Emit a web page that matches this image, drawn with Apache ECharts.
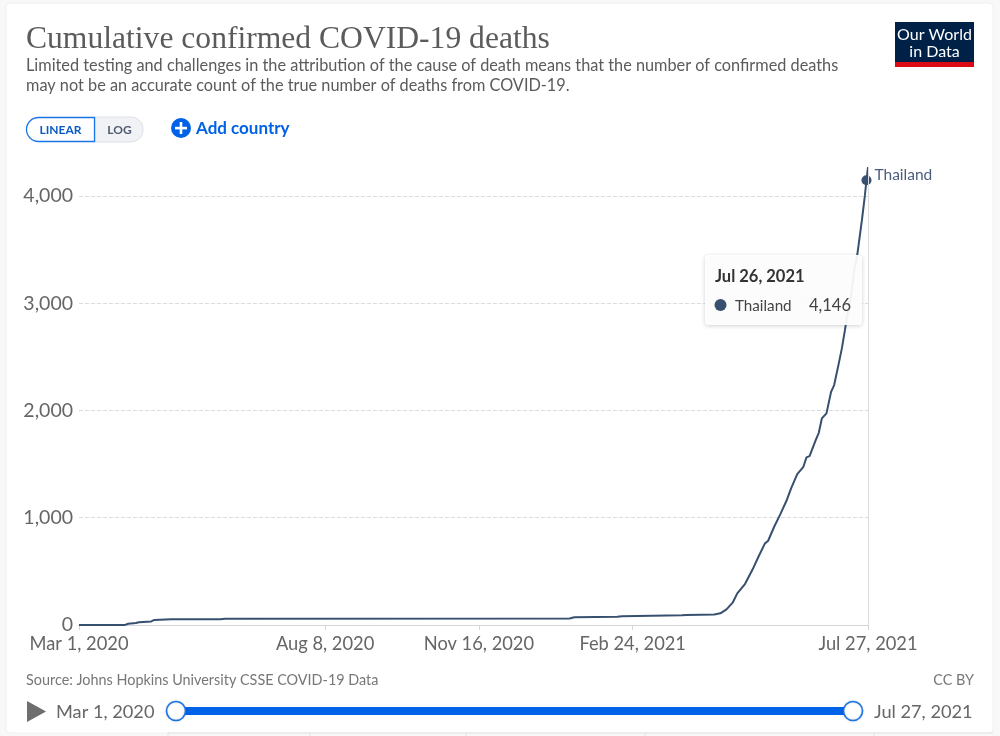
<!DOCTYPE html>
<html><head><meta charset="utf-8">
<style>html,body{margin:0;padding:0;background:#f8f8f8}#c{width:1000px;height:736px}</style>
<script src="https://cdn.jsdelivr.net/npm/echarts@6/dist/echarts.min.js"></script>
</head><body><div id="c"></div>
<script>
const titleText = 'Cumulative confirmed COVID-19 deaths';
const subtitleLines = ['Limited testing and challenges in the attribution of the cause of death means that the number of confirmed deaths','may not be an accurate count of the true number of deaths from COVID-19.'];
const sourceText = 'Source: Johns Hopkins University CSSE COVID-19 Data';
const seriesName = 'Thailand';
const dates = ['2020-03-01','2020-03-31','2020-04-02','2020-04-07','2020-04-09','2020-04-17','2020-04-19','2020-04-30','2020-06-01','2020-06-04','2021-01-14','2021-01-17','2021-02-14','2021-02-17','2021-03-28','2021-03-31','2021-04-18','2021-04-22','2021-04-26','2021-04-30','2021-05-03','2021-05-08','2021-05-13','2021-05-17','2021-05-21','2021-05-23','2021-05-27','2021-05-31','2021-06-04','2021-06-07','2021-06-11','2021-06-15','2021-06-17','2021-06-19','2021-06-23','2021-06-25','2021-06-27','2021-06-30','2021-07-03','2021-07-05','2021-07-08','2021-07-10','2021-07-12','2021-07-13','2021-07-16','2021-07-18','2021-07-20','2021-07-23','2021-07-25','2021-07-26','2021-07-27'];
const deaths = [1,1,12,19,26,33,47,54,54,58,60,72,76,82,90,94,97,109,146,208,295,382,519,643,761,783,916,1034,1158,1274,1407,1475,1563,1575,1724,1792,1926,1973,2174,2237,2439,2579,2749,2843,3075,3308,3448,3770,4007,4146,4270];
const hoverDate = '2021-07-26';
const hoverValue = 4146;
const hoverLabel = 'Jul 26, 2021';
const xTickDates = ['2020-03-01','2020-08-08','2020-11-16','2021-02-24','2021-07-27'];
const xTickLabels = ['Mar 1, 2020','Aug 8, 2020','Nov 16, 2020','Feb 24, 2021','Jul 27, 2021'];
const yTicks = [0,1000,2000,3000,4000];
const yMax = 4270;
const F = 'Lato, "Open Sans", sans-serif';
const lineCol = '#38506f';
const blue = '#0062e6';
const ms = s => Date.parse(s + 'T00:00:00Z');
const xTickMs = xTickDates.map(ms);
const chart = echarts.init(document.getElementById('c'), null, {renderer:'canvas'});
const T = (x,y,text,fs,fill,extra={}) => ({type:'text',x,y,z:30,silent:true,style:Object.assign({text,fontFamily:F,fontSize:fs,fill,textVerticalAlign:'middle'},extra)});
const L = (x1,y1,x2,y2) => ({type:'line',z:1,silent:true,shape:{x1,y1,x2,y2},style:{stroke:'#e3e3e3',lineWidth:1}});
chart.setOption({
  animation:false,
  backgroundColor:'#f8f8f8',
  grid:{left:79,right:132,top:167,bottom:111},
  xAxis:{type:'value',min:ms(xTickDates[0]),max:ms(xTickDates[4]),
    axisLine:{show:true,lineStyle:{color:'#d6d6d6',width:1}},
    axisTick:{show:true,length:5,lineStyle:{color:'#d6d6d6'},customValues:xTickMs},
    splitLine:{show:false},
    axisLabel:{customValues:xTickMs,hideOverlap:false,showMinLabel:true,showMaxLabel:true,color:'#666',fontFamily:F,fontSize:18.3,margin:10,
      formatter:v=>xTickLabels[xTickMs.indexOf(v)]||''}},
  yAxis:{type:'value',min:0,max:yMax,interval:1000,
    axisLine:{show:false},axisTick:{show:false},
    splitLine:{show:true,showMinLine:false,showMaxLine:false,lineStyle:{type:'dashed',color:'#dcdcdc',width:1}},
    axisLabel:{showMaxLabel:false,color:'#666',fontFamily:F,fontSize:19.5,margin:6,padding:[0,0,2,0],formatter:v=>yTicks.includes(v)?v.toLocaleString('en-US'):''}},
  series:[
    {type:'line',name:seriesName,data:dates.map((d,i)=>[ms(d),deaths[i]]),showSymbol:false,silent:true,
      lineStyle:{color:lineCol,width:2},
      markLine:{silent:true,symbol:'none',label:{show:false},lineStyle:{color:'#dcdcdc',width:1,type:'solid'},data:[{xAxis:ms(xTickDates[4])}],animation:false},z:3},
    {type:'scatter',name:seriesName,data:[[ms(hoverDate),hoverValue]],symbolSize:10,itemStyle:{color:lineCol,opacity:1},silent:true,z:4,
      label:{show:true,position:'right',offset:[-2,-5],formatter:seriesName,color:'#4a5d7c',fontFamily:F,fontSize:15.5}}
  ],
  graphic:[
    {type:'rect',z:-10,silent:true,shape:{x:6,y:3,width:987,height:730,r:4},style:{fill:'#fff',stroke:'#f0f0f0'}},
    L(168,733,993,733),L(168,733,168,736),L(310,733,310,736),L(466,733,466,736),L(645,733,645,736),L(874,733,874,736),
    T(26,40,titleText,31.6,'#5b5b5b',{fontFamily:'"Liberation Serif",serif'}),
    T(26,66,subtitleLines[0],16.3,'#5b5b5b'),
    T(26,86,subtitleLines[1],16.3,'#5b5b5b'),
    {type:'rect',z:10,silent:true,shape:{x:895,y:22,width:79,height:45},style:{fill:'#002147'}},
    {type:'rect',z:11,silent:true,shape:{x:895,y:62,width:79,height:5},style:{fill:'#dc0a14'}},
    T(934.5,34.5,'Our World',16,'#fff',{textAlign:'center'}),
    T(934.5,51.5,'in Data',16,'#fff',{textAlign:'center'}),
    {type:'rect',z:9,silent:true,shape:{x:95,y:117,width:48,height:25,r:[0,12,12,0]},style:{fill:'#f1f2f5',stroke:'#dde0e6',lineWidth:1}},
    {type:'rect',z:9,silent:true,shape:{x:26.5,y:117.5,width:68,height:24,r:[12,0,0,12]},style:{fill:'#fff',stroke:'#1a76e8',lineWidth:1.3}},
    T(60.5,130,'LINEAR',12,'#0b5bc4',{textAlign:'center',fontWeight:'bold'}),
    T(119.5,130,'LOG',12,'#4f5b70',{textAlign:'center',fontWeight:'bold'}),
    {type:'circle',z:10,silent:true,shape:{cx:181,cy:128,r:10},style:{fill:blue}},
    {type:'rect',z:11,silent:true,shape:{x:175,y:126.8,width:12,height:2.6},style:{fill:'#fff'}},
    {type:'rect',z:11,silent:true,shape:{x:179.7,y:122,width:2.6,height:12},style:{fill:'#fff'}},
    T(196,129,'Add country',17,blue,{fontWeight:'bold'}),
    {type:'rect',z:20,silent:true,shape:{x:705,y:255,width:157,height:70,r:3},style:{fill:'rgba(255,255,255,0.93)',shadowBlur:4,shadowOffsetY:1,shadowColor:'rgba(0,0,0,0.2)'}},
    T(715,276.5,hoverLabel,16.5,'#333',{fontWeight:'bold'}),
    {type:'circle',z:21,silent:true,shape:{cx:720.5,cy:305,r:6},style:{fill:lineCol}},
    T(735,306,seriesName,15.2,'#444'),
    T(851,306,hoverValue.toLocaleString('en-US'),16.5,'#444',{textAlign:'right'}),
    T(26,680,sourceText,14.4,'#777'),
    T(974,680,'CC BY',14.4,'#777',{textAlign:'right'}),
    {type:'polygon',z:10,silent:true,shape:{points:[[27,701],[46,711.5],[27,722]]},style:{fill:'#6e6e6e'}},
    T(56,712.5,xTickLabels[0],18.2,'#666'),
    T(874,712.5,xTickLabels[4],18.2,'#666'),
    {type:'rect',z:10,silent:true,shape:{x:176,y:707,width:677,height:8},style:{fill:blue}},
    {type:'circle',z:11,silent:true,shape:{cx:176,cy:711,r:9.5},style:{fill:'#fff',stroke:'#1a76e8',lineWidth:1.6,shadowBlur:2,shadowColor:'rgba(0,0,0,.2)'}},
    {type:'circle',z:11,silent:true,shape:{cx:853,cy:711,r:9.5},style:{fill:'#fff',stroke:'#1a76e8',lineWidth:1.6,shadowBlur:2,shadowColor:'rgba(0,0,0,.2)'}}
  ]
});
</script></body></html>
